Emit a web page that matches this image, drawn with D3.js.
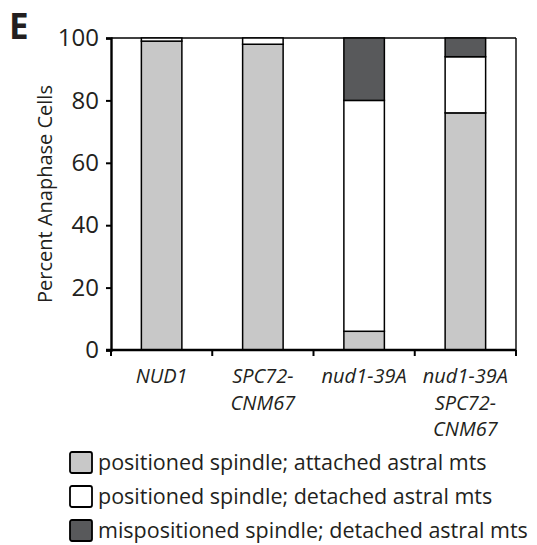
<!DOCTYPE html>
<html lang="en">
<head>
<meta charset="UTF-8">
<script src="https://cdn.jsdelivr.net/npm/d3@7"></script>
<style>
  body { margin: 0; background: #fff; }
  svg text { font-family: "Open Sans", sans-serif; fill: #231f20; }
</style>
</head>
<body>
<svg id="chart" width="537" height="545"></svg>
<script>
// data (percent of anaphase cells)
var strains = ["NUD1", "SPC72-CNM67", "nud1-39A", "nud1-39A SPC72-CNM67"];
var strainLines = [["NUD1"], ["SPC72-", "CNM67"], ["nud1-39A"], ["nud1-39A", "SPC72-", "CNM67"]];
var attached = [99, 98, 6, 76];
var detached = [1, 2, 74, 18];
var mispositioned = [0, 0, 20, 6];
var seriesNames = [
  "positioned spindle; attached astral mts",
  "positioned spindle; detached astral mts",
  "mispositioned spindle; detached astral mts"
];
var seriesColors = ["#c8c8c8", "#ffffff", "#58595b"];
var yTicks = [0, 20, 40, 60, 80, 100];

var svg = d3.select("#chart");
var mLeft = 111, mRight = 516, mTop = 38, mBottom = 350;

var x = d3.scaleBand().domain(strains).range([mLeft, mRight]).paddingInner(0.6).paddingOuter(0.3);
var y = d3.scaleLinear().domain([0, 100]).range([mBottom, mTop]);

var rows = strains.map(function(s, i) {
  return { strain: s, a: attached[i], d: detached[i], m: mispositioned[i] };
});
var stack = d3.stack().keys(["a", "d", "m"])(rows);

// frame top / right
svg.append("line").attr("x1", mLeft).attr("x2", mRight).attr("y1", mTop).attr("y2", mTop)
  .attr("stroke", "#000").attr("stroke-width", 1.6);
svg.append("line").attr("x1", mRight).attr("x2", mRight).attr("y1", mTop).attr("y2", mBottom)
  .attr("stroke", "#000").attr("stroke-width", 1.4);

// bars
svg.append("g").selectAll("g")
  .data(stack)
  .enter().append("g")
  .attr("fill", function(d, i) { return seriesColors[i]; })
  .selectAll("rect")
  .data(function(d) { return d.filter(function(p) { return p[1] > p[0]; }); })
  .enter().append("rect")
  .attr("x", function(d) { return x(d.data.strain); })
  .attr("width", x.bandwidth())
  .attr("y", function(d) { return y(d[1]); })
  .attr("height", function(d) { return y(d[0]) - y(d[1]); })
  .attr("stroke", "#000")
  .attr("stroke-width", 1.5);

// y axis
var yAxis = svg.append("g").attr("transform", "translate(" + mLeft + ",0)")
  .call(d3.axisLeft(y).tickValues(yTicks).tickSize(5).tickPadding(7));
yAxis.select(".domain").attr("stroke", "#000").attr("stroke-width", 2.4);
yAxis.selectAll(".tick line").attr("stroke", "#000").attr("stroke-width", 2);
yAxis.selectAll("text").style("font-size", "24px").attr("fill", "#231f20");

// x axis: ticks between the groups
var xAxis = svg.append("g").attr("transform", "translate(0," + mBottom + ")");
xAxis.append("line").attr("x1", mLeft - 5).attr("x2", mRight).attr("y1", 0).attr("y2", 0)
  .attr("stroke", "#000").attr("stroke-width", 2.4);
var sepX = d3.range(strains.length + 1).map(function(i) { return mLeft + i * (mRight - mLeft) / strains.length; });
xAxis.selectAll(".sep").data(sepX).enter().append("line")
  .attr("x1", function(d) { return d; }).attr("x2", function(d) { return d; })
  .attr("y1", 0).attr("y2", 6)
  .attr("stroke", "#000").attr("stroke-width", 2);

xAxis.selectAll(".lab").data(strains).enter().append("text")
  .attr("text-anchor", "middle")
  .attr("transform", function(d) { return "translate(" + (x(d) + x.bandwidth() / 2) + ",33)"; })
  .style("font-size", "20px").style("font-style", "italic")
  .each(function(d, i) {
    var t = d3.select(this);
    strainLines[i].forEach(function(line, j) {
      t.append("tspan").attr("x", 0).attr("y", j * 26.5).text(line);
    });
  });

// axis title
svg.append("text")
  .attr("transform", "translate(52," + ((mTop + mBottom) / 2) + ") rotate(-90)")
  .attr("text-anchor", "middle")
  .style("font-size", "20px")
  .text("Percent Anaphase Cells");

// panel letter
svg.append("text").attr("x", 9).attr("y", 39)
  .style("font-size", "35px").style("font-weight", "bold")
  .text("E");

// legend
var legend = svg.append("g").attr("transform", "translate(70,452)");
var li = legend.selectAll("g").data(seriesNames).enter().append("g")
  .attr("transform", function(d, i) { return "translate(0," + (i * 34) + ")"; });
li.append("rect").attr("width", 22).attr("height", 21).attr("rx", 2)
  .attr("fill", function(d, i) { return seriesColors[i]; })
  .attr("stroke", "#000").attr("stroke-width", 1.8);
li.append("text").attr("x", 28).attr("y", 18)
  .style("font-size", "21.5px")
  .text(function(d) { return d; });
</script>
</body>
</html>
